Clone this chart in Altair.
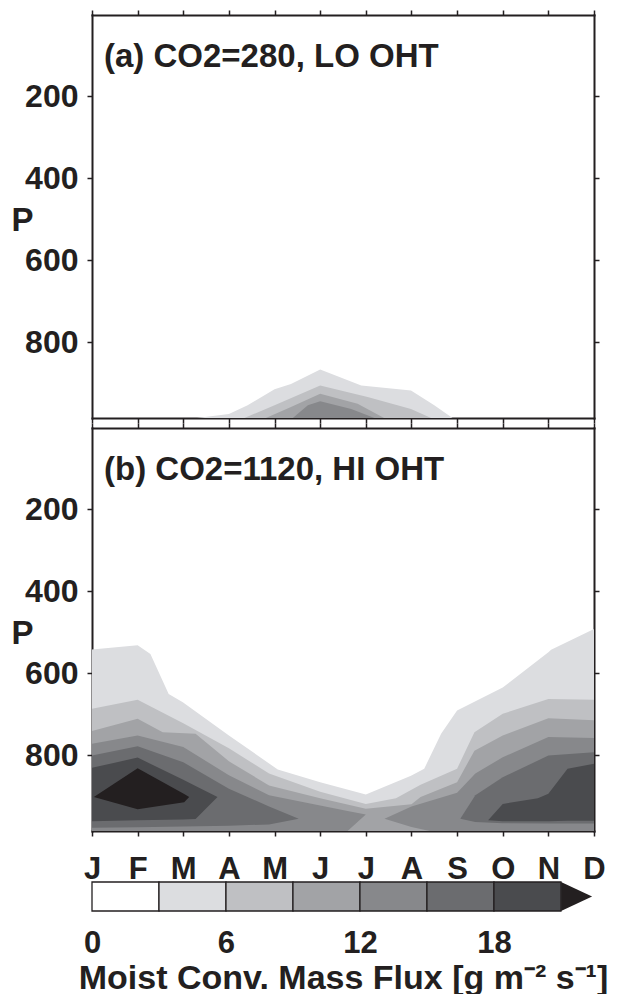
import altair as alt
import pandas as pd

FONT = "Liberation Sans"
INK = "#231f20"

# ---------------- data ----------------
months = ["J", "F", "M", "A", "M", "J", "J", "A", "S", "O", "N", "D"]
level_names = ["3-6", "6-9", "9-12", "12-15", "15-18", "18-21", ">21"]
grays = ["#dcdde0", "#bfc0c3", "#a2a3a6", "#87888b", "#6b6c6f", "#4a4b4e", "#231f20"]
P_TOP = 2.0
P_SURF = 985.0
y_ticks = [200, 400, 600, 800]
panel_titles = ["(a) CO2=280, LO OHT", "(b) CO2=1120, HI OHT"]

# colorbar
cb_edges = [0, 3, 6, 9, 12, 15, 18, 21]
cb_colors = ["#ffffff"] + grays[:6]
cb_labels = [0, 6, 12, 18]
cb_arrow_at = 21.7
cb_max = 22.48
cb_title = "Moist Conv. Mass Flux [g m\u207b\u00b2 s\u207b\u00b9]"

# contour bands, panel (a): month, upper pressure (lower = surface)
a1_m = [2.3, 3.0, 3.41, 4.0, 4.36, 5.0, 5.9, 6.99, 7.5, 7.9]
a1_top = [985, 975, 954, 915, 902, 867, 906, 918, 954, 985]
a2_m = [3.34, 4.0, 5.0, 6.04, 6.99, 7.43]
a2_top = [985, 954, 906, 934, 963, 985]
a3_m = [3.81, 4.36, 5.0, 5.82, 6.4]
a3_top = [985, 958, 926, 950, 985]
a4_m = [4.4, 4.73, 5.0, 5.68, 6.19]
a4_top = [985, 954, 944, 963, 985]

# panel (b)
b1_m = [0, 1.0, 1.28, 1.68, 1.99, 3.0, 4.07, 5.0, 6.0, 6.99, 7.28, 7.65, 8.0, 9.0, 10.0, 10.06, 11.0]
b1_top = [542, 532, 553, 651, 671, 752, 835, 866, 896, 850, 833, 748, 691, 635, 549, 543, 492]
b2_m = [0, 1, 2, 3, 3.88, 5, 6, 6.66, 7.2, 8, 8.38, 9, 10, 11]
b2_top = [687, 665, 722, 783, 845, 889, 919, 905, 872, 833, 744, 699, 663, 665]
b3_m = [0, 1, 1.55, 2.27, 3, 3.88, 5, 6, 7, 7.2, 8, 8.38, 9, 10, 11]
b3_top = [741, 711, 744, 748, 815, 874, 905, 931, 920, 902, 866, 789, 752, 710, 715]
b4a_m = [0, 1, 2, 3, 3.88, 5, 5.6, 6.0]
b4a_top = [772, 752, 780, 849, 898, 923, 936, 945]
b4a_bot = [985, 985, 985, 985, 985, 985, 985, 945]
b4b_m = [6.41, 7, 7.4, 8, 8.4, 9, 10, 11]
b4b_top = [955, 925, 912, 892, 845, 805, 756, 758]
b4b_bot = [955, 975, 985, 985, 985, 985, 985, 985]
b5a_m = [0, 1, 2, 3, 3.88, 4.53]
b5a_top = [801, 778, 817, 882, 925, 955]
b5a_bot = [977, 976, 974, 972, 969, 955]
b5b_m = [8.07, 8.4, 9, 10, 11]
b5b_top = [955, 898, 854, 801, 793]
b5b_bot = [955, 963, 966, 967, 967]
b6a_m = [0, 1, 2, 2.27, 2.75]
b6a_top = [831, 806, 860, 875, 902]
b6a_bot = [961, 959, 957, 956, 902]
b6b_m = [8.68, 9, 9.77, 10, 10.42, 11]
b6b_top = [959, 919, 905, 894, 833, 821]
b6b_bot = [959, 961, 961, 961, 960, 960]
b7_m = [0.04, 1, 2.02, 2.13]
b7_top = [902, 832, 895, 902]
b7_bot = [902, 932, 915, 902]


def surf(ms):
    return [P_SURF] * len(ms)


shapes_a = [
    (0, a1_m, a1_top, surf(a1_m)),
    (1, a2_m, a2_top, surf(a2_m)),
    (2, a3_m, a3_top, surf(a3_m)),
    (3, a4_m, a4_top, surf(a4_m)),
]
shapes_b = [
    (0, b1_m, b1_top, surf(b1_m)),
    (1, b2_m, b2_top, surf(b2_m)),
    (2, b3_m, b3_top, surf(b3_m)),
    (3, b4a_m, b4a_top, b4a_bot),
    (3, b4b_m, b4b_top, b4b_bot),
    (4, b5a_m, b5a_top, b5a_bot),
    (4, b5b_m, b5b_top, b5b_bot),
    (5, b6a_m, b6a_top, b6a_bot),
    (5, b6b_m, b6b_top, b6b_bot),
    (6, b7_m, b7_top, b7_bot),
]

W = 502
H = 403
CB_GAP = 41
CB_H = 29

xscale = alt.Scale(domain=[0, 11], nice=False, zero=False)
yscale = alt.Scale(domain=[P_TOP, P_SURF], reverse=True, nice=False, zero=False)
month_expr = "[" + ",".join("'%s'" % m for m in months) + "][datum.value]"


def panel(shapes, title, month_labels):
    layers = []
    for lvl, m, top, bot in shapes:
        df = pd.DataFrame({"m": m, "top": top, "bot": bot, "level": level_names[lvl]})
        layers.append(
            alt.Chart(df)
            .mark_area(color=grays[lvl], strokeWidth=0, interpolate="linear")
            .encode(
                x=alt.X("m:Q", scale=xscale, axis=None),
                y=alt.Y("top:Q", scale=yscale, axis=None),
                y2="bot:Q",
            )
        )
    base = pd.DataFrame({"m": [0, 11], "top": [P_TOP, P_SURF]})
    left_axis = alt.Axis(
        orient="left", values=y_ticks, title="P", titleAngle=0, titleX=-70, titleY=205,
        titleAlign="center", titleBaseline="middle", titleFontSize=33, titleFont=FONT,
        titleFontWeight="bold", titleColor=INK, labelFontSize=32, labelPadding=9,
        labelFlush=False,
    )
    bottom_axis = alt.Axis(
        orient="bottom", values=list(range(12)), title=None,
        labels=month_labels, labelExpr=month_expr, labelFontSize=31, labelPadding=18,
        labelFlush=False, labelOverlap=False,
    )
    top_axis = alt.Axis(orient="top", values=list(range(12)), title=None, labels=False)
    right_axis = alt.Axis(orient="right", values=y_ticks, title=None, labels=False)
    ax1 = alt.Chart(base).mark_point(opacity=0).encode(
        x=alt.X("m:Q", scale=xscale, axis=bottom_axis),
        y=alt.Y("top:Q", scale=yscale, axis=left_axis),
    )
    ax2 = alt.Chart(base).mark_point(opacity=0).encode(
        x=alt.X("m:Q", scale=xscale, axis=top_axis),
        y=alt.Y("top:Q", scale=yscale, axis=right_axis),
    )
    txt = alt.Chart(pd.DataFrame({"t": [title]})).mark_text(
        align="left", baseline="alphabetic", font=FONT, fontSize=33, fontWeight="bold", color=INK
    ).encode(text="t:N", x=alt.value(12), y=alt.value(52))
    return (
        alt.layer(*layers, ax1, ax2, txt)
        .resolve_axis(x="independent", y="independent")
        .properties(width=W, height=H)
    )


pa = panel(shapes_a, panel_titles[0], False)
pb = panel(shapes_b, panel_titles[1], True)

cb_df = pd.DataFrame({"lo": cb_edges[:-1], "hi": cb_edges[1:], "c": cb_colors})
cb_scale = alt.Scale(domain=[0, cb_max], nice=False, zero=False)
rects = alt.Chart(cb_df).mark_rect(stroke=INK, strokeWidth=1.3).encode(
    x=alt.X("lo:Q", scale=cb_scale, axis=alt.Axis(
        values=cb_labels, title=cb_title, ticks=False, domain=False, labelFontSize=31,
        labelPadding=17, labelFlush=False, titleFontSize=34, titleFont=FONT,
        titleFontWeight="bold", titleColor=INK, titlePadding=3,
    )),
    x2="hi:Q",
    y=alt.value(CB_GAP),
    y2=alt.value(CB_GAP + CB_H),
    fill=alt.Fill("c:N", scale=None, legend=None),
)
arrow = alt.Chart(pd.DataFrame({"x": [cb_arrow_at]})).mark_point(
    shape="M-1,-0.935L1,0L-1,0.935Z", size=961, filled=True, color=INK, opacity=1, strokeWidth=0
).encode(x=alt.X("x:Q", scale=cb_scale), y=alt.value(CB_GAP + CB_H / 2))
cb = alt.layer(rects, arrow).properties(width=W, height=CB_GAP + CB_H)

chart = (
    alt.vconcat(pa, pb, cb, spacing=10, bounds="flush")
    .properties(padding={"left": 2, "top": 0, "right": 0, "bottom": 0})
    .configure_view(stroke="transparent")
    .configure_axis(
        domain=True, domainColor=INK, domainWidth=2, domainCap="square",
        tickColor=INK, tickWidth=1.5, tickSize=5, grid=False,
        labelFont=FONT, labelFontWeight="bold", labelColor=INK,
    )
)
chart.save("out.html", embed_options={"renderer": "svg", "actions": False})
